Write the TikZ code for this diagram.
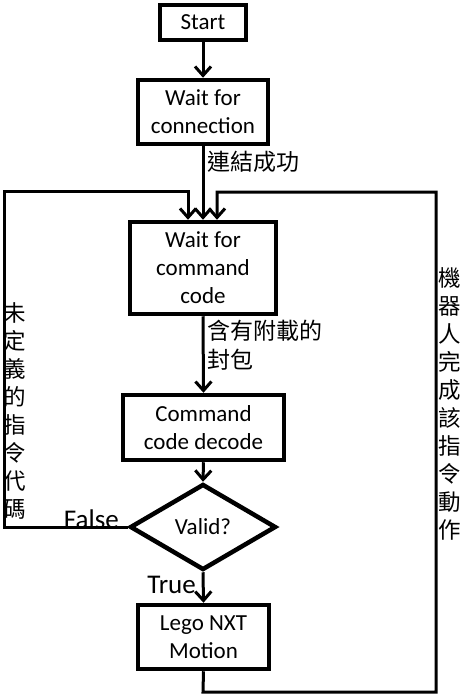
\documentclass[tikz,border=0pt]{standalone}
\usepackage{fontspec}
\setmainfont{Carlito}
\newfontfamily\cjk{Noto Sans CJK TC}
\usetikzlibrary{shapes.geometric,arrows.meta,calc}
\begin{document}
\begin{tikzpicture}[x=1pt,y=-1pt,
  box/.style={draw,line width=4.5pt,rectangle,inner sep=0pt,align=center,font=\fontsize{23}{28}\selectfont},
  dia/.style={draw,line width=4.5pt,diamond,inner sep=0pt,font=\fontsize{23}{28}\selectfont},
  conn/.style={line width=3pt,-{Straight Barb[length=9pt,width=16pt,line width=3pt]}},
  wire/.style={line width=3pt},
  lbl/.style={inner sep=0pt,font=\fontsize{23}{29}\selectfont\cjk,align=left},
  vlbl/.style={inner sep=0pt,font=\fontsize{22.5}{28}\selectfont\cjk,align=center},
  tf/.style={inner sep=0pt,font=\fontsize{27}{28}\selectfont}]
\useasboundingbox (0,0) rectangle (466,699);
\node[box,minimum width=86pt,minimum height=35pt] (start) at (203,22.5) {Start};
\node[box,minimum width=130pt,minimum height=64pt] (wconn) at (203,112) {Wait for\\connection};
\node[box,minimum width=146pt,minimum height=92pt] (wcmd) at (203,268) {Wait for\\command\\code};
\node[box,minimum width=161pt,minimum height=65pt] (dec) at (203.5,427.5) {Command\\code decode};
\node[dia,minimum width=146pt,minimum height=86pt] (valid) at (203,527) {Valid?};
\node[box,minimum width=131pt,minimum height=64pt] (mot) at (203.5,637) {Lego NXT\\Motion};
\coordinate (l1) at (4,527);
\coordinate (l2) at (4,191);
\coordinate (l3) at (188,191);
\coordinate (r1) at (203,692);
\coordinate (r2) at (436,692);
\coordinate (r3) at (436,192);
\coordinate (r4) at (217,192);
\draw[conn] (start.south) -- (wconn.north);
\draw[conn] (wconn.south) -- (wcmd.north);
\draw[conn] (wcmd.south) -- (dec.north);
\draw[conn] (dec.south) -- (valid.north);
\draw[conn] (valid.south) -- (mot.north);
\draw[conn] (valid.west) -- (l1) -- (l2) -- (l3) -- (l3 |- wcmd.north);
\draw[conn] (mot.south) -- (r1) -- (r2) -- (r3) -- (r4) -- (r4 |- wcmd.north);
\node[lbl,anchor=west] (t1) at (207,162) {連結成功};
\node[lbl,anchor=north west] (t2) at (207,320) {含有附載的\\封包};
\node[tf,anchor=base east] (tfalse) at (119,528) {False};
\node[tf,anchor=base east] (ttrue) at (196,593) {True};
\node[vlbl] (vl) at (15,411) {未\\定\\義\\的\\指\\令\\代\\碼};
\node[vlbl] (vr) at (450,404) {機\\器\\人\\完\\成\\該\\指\\令\\動\\作};
\end{tikzpicture}
\end{document}
